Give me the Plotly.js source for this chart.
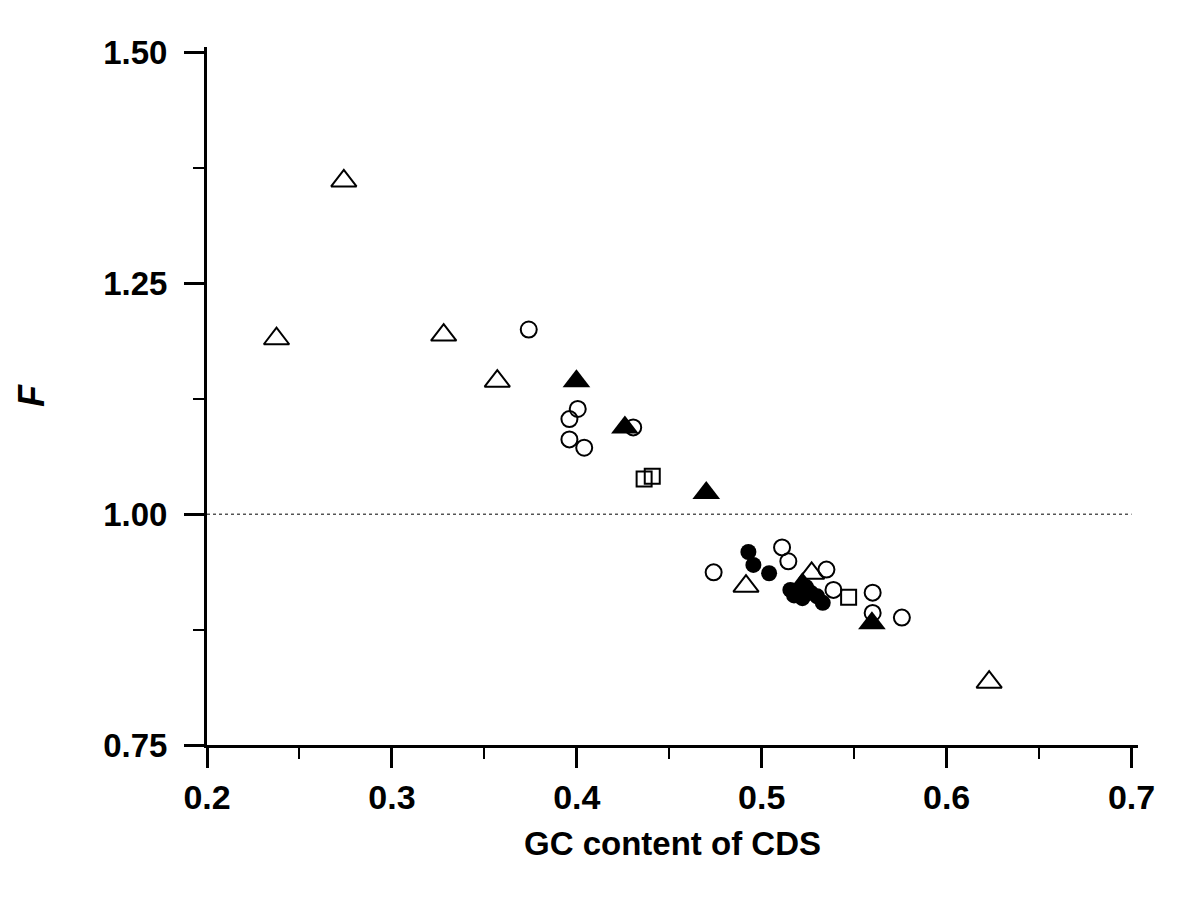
<!DOCTYPE html>
<html>
<head>
<meta charset="utf-8">
<script src="https://cdn.plot.ly/plotly-3.0.1.min.js"></script>
<style>
  body { margin: 0; background: #fff; }
  #chart { width: 1200px; height: 900px; }
</style>
</head>
<body>
<div id="chart"></div>
<script type="text/javascript">
// GC content (x) and F (y), one pair of arrays per marker type
const openCircleGC = [0.374, 0.4005, 0.396, 0.396, 0.404, 0.4305, 0.474, 0.511, 0.5144, 0.535, 0.5388, 0.560, 0.560, 0.5758];
const openCircleF  = [1.200, 1.114, 1.103, 1.081, 1.072, 1.094, 0.937, 0.964, 0.949, 0.940, 0.918, 0.915, 0.893, 0.888];

const openTriangleGC = [0.2376, 0.274, 0.328, 0.357, 0.4915, 0.527, 0.623];
const openTriangleF  = [1.190, 1.361, 1.194, 1.144, 0.922, 0.936, 0.818];

const openSquareGC = [0.4364, 0.4408, 0.547];
const openSquareF  = [1.038, 1.041, 0.910];

const filledCircleGC = [0.4928, 0.4955, 0.504, 0.5155, 0.5175, 0.522, 0.524, 0.5265, 0.530, 0.533];
const filledCircleF  = [0.959, 0.945, 0.936, 0.918, 0.912, 0.909, 0.921, 0.915, 0.911, 0.904];

const filledTriangleGC = [0.3998, 0.426, 0.470, 0.522, 0.5596];
const filledTriangleF  = [1.144, 1.094, 1.023, 0.924, 0.882];

const refLineGC = [0.2, 0.7];
const refLineF  = [1.0, 1.0];

const boldFont = 'Liberation Sans, Arial, Helvetica, sans-serif';

const refLine = {
    type: 'scatter', mode: 'lines',
    x: refLineGC, y: refLineF,
    line: {color: '#000', width: 1, dash: 'dot'},
    hoverinfo: 'skip'
};

const openCircles = {
    type: 'scatter', mode: 'markers',
    x: openCircleGC, y: openCircleF,
    name: 'open circles',
    marker: {symbol: 'circle-open', size: 16, color: '#000', line: {width: 2}}
};

const openTriangles = {
    type: 'scatter', mode: 'markers',
    x: openTriangleGC, y: openTriangleF,
    name: 'open triangles',
    marker: {symbol: 'triangle-up-open', size: 22, color: '#000', line: {width: 2}}
};

const openSquares = {
    type: 'scatter', mode: 'markers',
    x: openSquareGC, y: openSquareF,
    name: 'open squares',
    marker: {symbol: 'square-open', size: 15, color: '#000', line: {width: 2}}
};

const filledCircles = {
    type: 'scatter', mode: 'markers',
    x: filledCircleGC, y: filledCircleF,
    name: 'filled circles',
    marker: {symbol: 'circle', size: 16, color: '#000'}
};

const filledTriangles = {
    type: 'scatter', mode: 'markers',
    x: filledTriangleGC, y: filledTriangleF,
    name: 'filled triangles',
    marker: {symbol: 'triangle-up', size: 24, color: '#000'}
};

const layout = {
    width: 1200,
    height: 900,
    showlegend: false,
    paper_bgcolor: '#fff',
    plot_bgcolor: '#fff',
    margin: {l: 207, r: 62, t: 47, b: 155},
    xaxis: {
        range: [0.2, 0.7035],
        showgrid: false,
        zeroline: false,
        showline: true,
        linecolor: '#000',
        linewidth: 3,
        ticks: 'outside',
        ticklen: 20,
        tickwidth: 3,
        tickcolor: '#000',
        tick0: 0.2,
        dtick: 0.1,
        tickformat: '.1f',
        tickfont: {family: boldFont, size: 34, color: '#000', weight: 700},
        minor: {ticks: 'outside', dtick: 0.05, tick0: 0.2, ticklen: 11, tickwidth: 2, tickcolor: '#000'},
        title: {
            text: 'GC content of CDS',
            font: {family: boldFont, size: 33, color: '#000', weight: 700},
            standoff: 18
        }
    },
    yaxis: {
        range: [0.75, 1.506],
        showgrid: false,
        zeroline: false,
        showline: true,
        linecolor: '#000',
        linewidth: 3,
        ticks: 'outside',
        ticklen: 20,
        tickwidth: 3,
        tickcolor: '#000',
        tick0: 0.75,
        dtick: 0.25,
        tickformat: '.2f',
        ticklabelstandoff: 10,
        tickfont: {family: boldFont, size: 33, color: '#000', weight: 700},
        minor: {ticks: 'outside', dtick: 0.125, tick0: 0.75, ticklen: 11, tickwidth: 2, tickcolor: '#000'},
        title: {
            text: '<i>F</i>',
            font: {family: boldFont, size: 36, color: '#000', weight: 700},
            standoff: 48
        }
    }
};

Plotly.newPlot('chart',
    [refLine, openCircles, openTriangles, openSquares, filledCircles, filledTriangles],
    layout, {displayModeBar: false, staticPlot: true});
</script>
</body>
</html>
